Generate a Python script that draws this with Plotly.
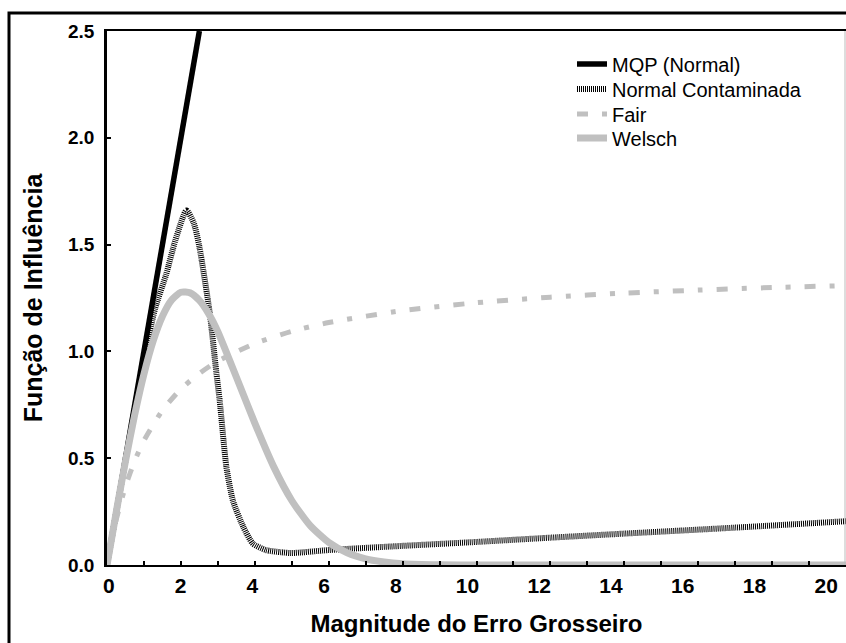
import plotly.graph_objects as go

# ---------------- data ----------------
mqp_x = [0.0, 2.5]
mqp_y = [0.0, 2.5]

nc_x = [0.0, 0.5, 1.0, 1.3, 1.6, 1.85, 2.15, 2.35, 2.5, 2.78, 2.96, 3.05, 3.23, 3.41,
        3.69, 3.95, 4.3, 4.7, 5.0, 6.0, 7.4, 10.0, 12.0, 14.0, 17.0, 20.0]
nc_y = [0.0, 0.49, 0.96, 1.2, 1.36, 1.52, 1.66, 1.60, 1.49, 1.18, 0.90, 0.77, 0.46, 0.30,
        0.178, 0.10, 0.07, 0.06, 0.056, 0.07, 0.084, 0.108, 0.128, 0.147, 0.175, 0.205]

fair_x = [0, 0.25, 0.5, 0.75, 1, 1.5, 2, 2.5, 3, 4, 5, 6, 8, 10, 12, 14, 16, 18, 20]
fair_y = [0, 0.212, 0.368, 0.488, 0.583, 0.724, 0.824, 0.897, 0.955, 1.037, 1.094,
          1.135, 1.191, 1.228, 1.254, 1.273, 1.287, 1.299, 1.308]

welsch_x = [0, 0.25, 0.5, 0.75, 1, 1.25, 1.5, 1.75, 2, 2.25, 2.5, 2.75, 3, 3.5, 4, 4.5,
            5, 5.5, 6, 6.5, 7, 7.5, 8, 9, 10, 20]
welsch_y = [0, 0.248, 0.486, 0.704, 0.894, 1.049, 1.165, 1.241, 1.277, 1.274, 1.239,
            1.177, 1.092, 0.880, 0.664, 0.464, 0.302, 0.184, 0.106, 0.057, 0.029,
            0.014, 0.006, 0.001, 0.0, 0.0]

x_ticks = [0, 2, 4, 6, 8, 10, 12, 14, 16, 18, 20]
y_ticks = [0.0, 0.5, 1.0, 1.5, 2.0, 2.5]

names = ["MQP (Normal)", "Normal Contaminada", "Fair", "Welsch"]

FONT = "Arial, Liberation Sans, sans-serif"
GRAY = "#c0c0c0"

fig = go.Figure()
fig.add_trace(go.Scatter(x=mqp_x, y=mqp_y, mode="lines", name=names[0], legend="legend",
                         line=dict(color="black", width=5.5)))
fig.add_trace(go.Scatter(x=nc_x, y=nc_y, mode="lines", name=names[1], legend="legend2",
                         line=dict(color="black", width=6, dash="1px,1px",
                                   shape="spline", smoothing=0.6)))
fig.add_trace(go.Scatter(x=fair_x, y=fair_y, mode="lines", name=names[2], legend="legend3",
                         line=dict(color=GRAY, width=5, dash="11px,14px,5px,14px",
                                   shape="spline", smoothing=0.6)))
fig.add_trace(go.Scatter(x=welsch_x, y=welsch_y, mode="lines", name=names[3], legend="legend4",
                         line=dict(color=GRAY, width=7, shape="spline", smoothing=0.6)))
# empty trace that carries the tick-label axis
fig.add_trace(go.Scatter(x=[], y=[], xaxis="x2", yaxis="y", showlegend=False,
                         hoverinfo="skip"))


def leg(row_center_px):
    return dict(x=(572 - 107) / 739, y=(565 - row_center_px) / 534,
                xanchor="left", yanchor="middle",
                bgcolor="rgba(0,0,0,0)", borderwidth=0,
                font=dict(family=FONT, size=20, color="black"), itemwidth=30)


fig.update_layout(
    width=846, height=643,
    margin=dict(l=107, r=0, t=31, b=78, autoexpand=False),
    paper_bgcolor="white", plot_bgcolor="white",
    font=dict(family=FONT, color="black"),
    showlegend=True,
    legend=leg(64), legend2=leg(89), legend3=leg(114), legend4=leg(138),
    xaxis=dict(range=[0, 20], showline=True, linecolor="black", linewidth=2,
               mirror=True, ticks="inside", ticklen=4, tickwidth=1.5, tickcolor="black",
               dtick=1, tick0=0, showticklabels=False, showgrid=False, zeroline=False,
               title=dict(text="Magnitude do Erro Grosseiro", standoff=49,
                          font=dict(family=FONT, size=24, weight="bold"))),
    xaxis2=dict(overlaying="x", anchor="y", side="bottom", range=[-0.05, 20.55],
                tickmode="array", tickvals=x_ticks, ticktext=[str(v) for v in x_ticks],
                showline=False, ticks="", showgrid=False, zeroline=False,
                ticklabelstandoff=6,
                tickfont=dict(family=FONT, size=21, weight="bold")),
    yaxis=dict(range=[0, 2.5], showline=True, linecolor="black", linewidth=2.5,
               ticks="inside", ticklen=4, tickwidth=1.5, tickcolor="black",
               tickmode="array", tickvals=y_ticks,
               ticktext=[f"{v:.1f}" for v in y_ticks],
               tickfont=dict(family=FONT, size=19, weight="bold"),
               ticklabelstandoff=6,
               showgrid=False, zeroline=False,
               title=dict(text="Função de Influência", standoff=19,
                          font=dict(family=FONT, size=25, weight="bold"))),
    shapes=[
        dict(type="rect", xref="paper", yref="paper",
             x0=(9 - 107) / 739, x1=(852 - 107) / 739,
             y0=(565 - 660) / 534, y1=(565 - 13) / 534,
             line=dict(color="black", width=3), fillcolor="rgba(0,0,0,0)", layer="above"),
        dict(type="line", xref="paper", yref="paper", x0=(845 - 107) / 739,
             x1=(845 - 107) / 739, y0=0, y1=1, line=dict(color="#bbbbbb", width=1)),
    ],
)

fig.write_html("out.html")
